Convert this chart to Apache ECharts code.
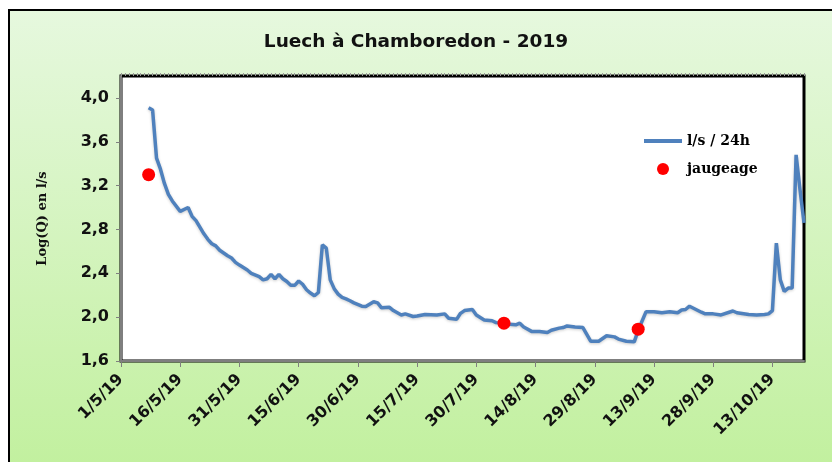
<!DOCTYPE html>
<html>
<head>
<meta charset="utf-8">
<script src="https://cdn.jsdelivr.net/npm/echarts@6/dist/echarts.min.js"></script>
<style>
  html, body { margin: 0; padding: 0; background: #fff; overflow: hidden; }
  #panel {
    position: absolute; left: 8px; top: 9px; width: 840px; height: 470px;
    box-sizing: border-box; border-left: 2px solid #000; border-top: 2px solid #000;
    background: linear-gradient(#e6f8de, #c2f09f 453px);
  }
  #chart { position: absolute; left: 0; top: 0; width: 832px; height: 462px; }
</style>
</head>
<body>
<div id="panel"></div>
<div id="chart"></div>
<script>
// jours comptés depuis le 1/5/2019
const flowDays = [7, 8, 9, 10, 11, 12, 13, 15, 17, 18, 19, 21, 22, 23, 24, 25, 27, 28, 29, 30,
  32, 33, 35, 36, 37, 38, 39, 40, 41, 42, 43, 44, 45, 46, 47, 48, 49, 50, 51, 52, 53, 54, 55, 56,
  57, 58, 59, 61, 62, 64, 65, 66, 68, 69, 71, 72, 74, 75, 77, 80, 82, 83, 85, 86, 87, 89, 90, 92,
  94, 95, 97, 100, 101, 102, 104, 106, 108, 109, 111, 112, 113, 115, 117, 119, 121, 123, 125, 126,
  128, 130, 131, 133, 135, 137, 139, 141, 142, 143, 144, 147, 148, 150, 152, 155, 156, 159, 161,
  163, 164, 165, 166, 167, 168, 169, 170, 171, 172, 173]
const flowValues = [3.91, 3.89, 3.45, 3.35, 3.22, 3.12, 3.06, 2.965, 3.0, 2.92, 2.88, 2.76, 2.71, 2.67,
  2.65, 2.61, 2.56, 2.54, 2.5, 2.475, 2.43, 2.4, 2.37, 2.34, 2.35, 2.39, 2.35, 2.39, 2.35, 2.325,
  2.29, 2.29, 2.33, 2.3, 2.25, 2.22, 2.195, 2.225, 2.66, 2.63, 2.34, 2.26, 2.21, 2.18, 2.167, 2.15,
  2.13, 2.1, 2.097, 2.14, 2.13, 2.085, 2.09, 2.06, 2.02, 2.03, 2.006, 2.01, 2.025, 2.02, 2.03, 1.99,
  1.98, 2.035, 2.06, 2.07, 2.02, 1.975, 1.967, 1.95, 1.94, 1.93, 1.945, 1.91, 1.87, 1.87, 1.86, 1.88,
  1.9, 1.905, 1.92, 1.91, 1.905, 1.78, 1.78, 1.83, 1.82, 1.8, 1.78, 1.775, 1.88, 2.05, 2.05, 2.04,
  2.05, 2.04, 2.065, 2.07, 2.1, 2.045, 2.03, 2.03, 2.02, 2.056, 2.04, 2.025, 2.02, 2.025, 2.03, 2.06,
  2.675, 2.34, 2.235, 2.265, 2.265, 3.48, 3.16, 2.86]

const gaugeDays = [7, 97, 131]
const gaugeValues = [3.3, 1.945, 1.89]

const xTickLabels = ['1/5/19', '16/5/19', '31/5/19', '15/6/19', '30/6/19', '15/7/19', '30/7/19',
  '14/8/19', '29/8/19', '13/9/19', '28/9/19', '13/10/19']

const chart = echarts.init(document.getElementById('chart'))

const option = {
  backgroundColor: 'transparent',
  animation: false,
  title: {
    text: 'Luech à Chamboredon - 2019',
    left: 'center',
    top: 28,
    textStyle: { fontFamily: 'DejaVu Sans', fontWeight: 'bold', fontSize: 18.5, color: '#111' }
  },
  legend: {
    orient: 'vertical',
    left: 642,
    top: 134,
    padding: 0,
    itemWidth: 38,
    itemHeight: 12,
    itemGap: 14,
    textStyle: { fontFamily: 'DejaVu Serif', fontWeight: 'bold', fontSize: 14, color: '#000' },
    data: [
      { name: 'l/s / 24h', itemStyle: { color: 'rgba(0,0,0,0)', borderWidth: 0 }, lineStyle: { width: 4 } },
      { name: 'jaugeage' }
    ]
  },
  grid: {
    left: 121, right: 28, top: 76, bottom: 101,
    show: true, borderColor: '#000', borderWidth: 3, backgroundColor: '#fff'
  },
  xAxis: [
    {
      type: 'value', min: 0, max: 173, interval: 15,
      axisLine: { lineStyle: { color: '#7f7f7f', width: 2 } },
      axisTick: { length: 6, lineStyle: { color: '#7f7f7f' } },
      splitLine: { show: false },
      axisLabel: {
        rotate: 45, margin: 16, showMaxLabel: false,
        fontFamily: 'DejaVu Sans', fontWeight: 'bold', fontSize: 16, color: '#111',
        formatter: v => xTickLabels[Math.round(v / 15)] || ''
      }
    },
    {
      type: 'value', min: 0, max: 173, interval: 1,
      axisLine: { show: false },
      axisTick: { length: 3, lineStyle: { color: '#9a9a9a' } },
      axisLabel: { show: false },
      splitLine: { show: false }
    }
  ],
  yAxis: {
    type: 'value', min: 1.6, max: 4.2, interval: 0.4,
    name: 'Log(Q) en l/s',
    nameLocation: 'middle',
    nameGap: 72,
    nameTextStyle: { fontFamily: 'DejaVu Serif', fontWeight: 'bold', fontSize: 13, color: '#111' },
    axisLine: { show: true, lineStyle: { color: '#7f7f7f', width: 2 } },
    axisTick: { show: true, length: 5, lineStyle: { color: '#7f7f7f' } },
    splitLine: { show: false },
    axisLabel: {
      showMaxLabel: false, margin: 12,
      fontFamily: 'DejaVu Sans', fontWeight: 'bold', fontSize: 16, color: '#111',
      formatter: v => v.toFixed(1).replace('.', ',')
    }
  },
  series: [
    {
      name: 'l/s / 24h',
      type: 'line',
      symbol: 'none',
      data: flowDays.map((d, i) => [d, flowValues[i]]),
      lineStyle: { color: '#4f81bd', width: 3.5, shadowColor: 'rgba(0,0,0,0.2)', shadowBlur: 3, shadowOffsetY: 1 },
      itemStyle: { color: '#4f81bd' }
    },
    {
      name: 'jaugeage',
      type: 'scatter',
      symbolSize: 13,
      data: gaugeDays.map((d, i) => [d, gaugeValues[i]]),
      itemStyle: { color: '#ff0000', opacity: 1 },
      z: 3
    }
  ]
}

chart.setOption(option)
</script>
</body>
</html>
